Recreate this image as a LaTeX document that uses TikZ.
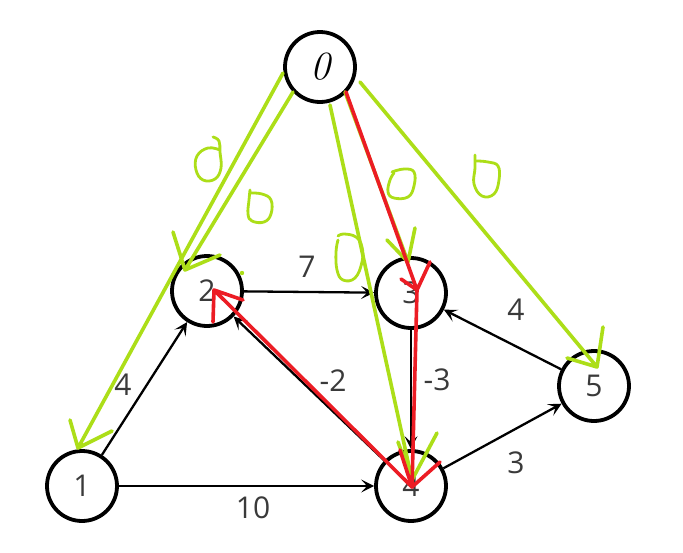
\documentclass[tikz,border=0pt]{standalone}
\usepackage{fontspec}
\setsansfont{Open Sans}
\usetikzlibrary{arrows.meta}
\definecolor{hgreen}{RGB}{172,222,24}
\definecolor{hred}{RGB}{236,28,36}
\definecolor{lblgray}{RGB}{58,58,58}
\begin{document}
\begin{tikzpicture}[x=1pt,y=-1pt,
  vtx/.style={circle,draw=black,line width=3.8pt,minimum size=70pt,inner sep=0pt,
    font=\sffamily\fontsize{30}{34}\selectfont,text=lblgray},
  edge/.style={draw=black,line width=2.3pt,-{Stealth[length=13pt,width=13pt,inset=6pt]}},
  wlab/.style={font=\sffamily\fontsize{30}{34}\selectfont,text=lblgray,inner sep=0pt},
  gpen/.style={draw=hgreen,line width=3.6pt,line cap=round,line join=round},
  rpen/.style={draw=hred,line width=3.6pt,line cap=round,line join=round}]
\useasboundingbox (0,0) rectangle (683,552);
\fill[white] (0,0) rectangle (683,552);

% vertices
\node[vtx] (n0) at (320,67) {\rmfamily\itshape\fontsize{40}{44}\selectfont\color{black}0};
\node[vtx] (n2) at (207,291) {2};
\node[vtx] (n3) at (411,293) {3};
\node[vtx] (n1) at (82,486) {1};
\node[vtx] (n4) at (411,486) {4};
\node[vtx] (n5) at (594,386) {5};

% black edges
\draw[edge] (n1) -- (n2);
\draw[edge] (n1) -- (n4);
\draw[edge] (n2) -- (n3);
\draw[edge] (n4) -- (n2);
\draw[edge] (n3) -- (n4);
\draw[edge] (n4) -- (n5);
\draw[edge] (n5) -- (n3);

% weights
\node[wlab] (w12) at (123,385) {4};
\node[wlab] (w14) at (253,508) {10};
\node[wlab] (w23) at (307,267) {7};
\node[wlab] (w42) at (333,381) {-2};
\node[wlab] (w34) at (437,380) {-3};
\node[wlab] (w45) at (516,463) {3};
\node[wlab] (w53) at (516,310) {4};

% green hand-drawn arrows
\coordinate (g1s) at (283,73);  \coordinate (g1t) at (78,448);
\coordinate (g2s) at (293,92);  \coordinate (g2t) at (185,270);
\coordinate (g3s) at (330,105); \coordinate (g3t) at (412,480);
\coordinate (g4s) at (360,82);  \coordinate (g4t) at (597,367);
\coordinate (g5s) at (345,92);  \coordinate (g5t) at (408,262);
\draw[gpen] (g1s) -- (g1t) (70,420) -- (g1t) -- (112,431);
\draw[gpen] (g2s) -- (g2t) (173,232) -- (g2t) -- (220,255);
\draw[gpen] (g3s) -- (g3t) (398,442) -- (g3t) -- (437,433);
\draw[gpen] (g4s) -- (g4t) (603,327) -- (g4t) -- (567,358);
\draw[gpen] (g5s) -- (g5t) (387,240) -- (g5t) -- (415,228);
\fill[hgreen] (242,273) circle (2.2pt);

% green scribbled zeros
\draw[gpen,line width=2.8pt] plot[smooth,tension=0.7] coordinates
  {(213,137) (219,141) (220,152) (221,168) (215,179) (203,180) (196,170) (197,156) (208,148) (220,150)};
\draw[gpen,line width=2.8pt] plot[smooth,tension=0.7] coordinates
  {(250,190) (249,200) (248,214) (252,221) (264,222) (271,214) (271,200) (262,194) (250,193)};
\draw[gpen,line width=2.8pt] plot[smooth,tension=0.7] coordinates
  {(338,236) (344,234) (356,237) (362,247) (362,262) (355,278) (343,280) (337,270) (336,252) (338,240)};
\draw[gpen,line width=2.8pt] plot[smooth,tension=0.7] coordinates
  {(392,172) (404,169) (414,172) (414,186) (408,197) (394,198) (388,192) (390,180) (394,173)};
\draw[gpen,line width=2.8pt] plot[smooth,tension=0.7] coordinates
  {(475,155) (475,168) (474,184) (482,196) (494,194) (499,180) (498,166) (488,162) (477,161)};

% red hand-drawn arrows
\coordinate (r1s) at (346,92);  \coordinate (r1t) at (417,290);
\coordinate (r2t) at (412,487);
\coordinate (r3t) at (214,290);
\draw[rpen] (r1s) -- (r1t) (401,279) -- (r1t) -- (430,262);
\draw[rpen] (r1t) -- (r2t) (400,450) -- (r2t) -- (440,462);
\draw[rpen] (r2t) -- (r3t) (213,322) -- (r3t) -- (243,300);
\end{tikzpicture}
\end{document}
